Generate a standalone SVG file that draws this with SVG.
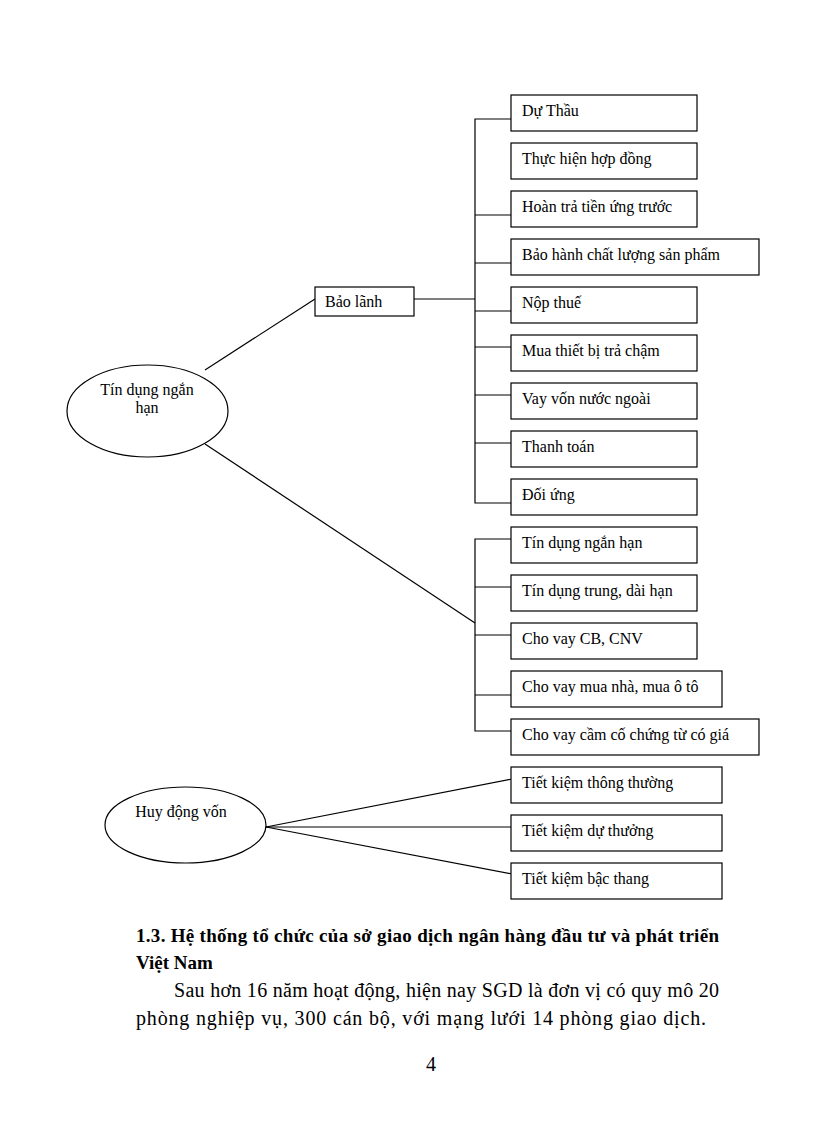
<svg xmlns="http://www.w3.org/2000/svg" width="816" height="1123" viewBox="0 0 816 1123">
<style>
.bx{fill:#fff;stroke:#000;stroke-width:1.2}
.el{fill:#fff;stroke:#000;stroke-width:1.2}
.t{font-family:"Liberation Serif","Times New Roman",serif;font-size:16px;fill:#000}
.c{fill:none;stroke:#000;stroke-width:1.2}
.h{font-family:"Liberation Serif","Times New Roman",serif;font-size:19px;font-weight:bold;fill:#000}
.p{font-family:"Liberation Serif","Times New Roman",serif;font-size:20px;fill:#000}
</style>
<rect width="816" height="1123" fill="#fff"/>
<g id="connectors">
<line class="c" x1="205" y1="370" x2="315" y2="299"/>
<line class="c" x1="205" y1="444" x2="475" y2="623"/>
<line class="c" x1="414" y1="299" x2="475" y2="299"/>
<path class="c" d="M511 119H475V503H511M475 215H511M475 263H511M475 311H511M475 347H511M475 395H511M475 443H511"/>
<path class="c" d="M511 539H475V731H511M475 587H511M475 635H511M475 695H511"/>
<line class="c" x1="266" y1="827" x2="512" y2="779"/>
<line class="c" x1="266" y1="827" x2="512" y2="827"/>
<line class="c" x1="266" y1="827" x2="512" y2="874"/>
</g>
<g id="n-tindung">
<ellipse class="el" cx="147.5" cy="411" rx="80.5" ry="46"/>
<text class="t" x="147" y="395" text-anchor="middle">Tín  dụng  ngắn</text>
<text class="t" x="147" y="413" text-anchor="middle">hạn</text>
</g>
<g id="n-baolanh"><rect class="bx" x="315" y="287" width="99" height="29"/><text class="t" x="325" y="307">Bảo lãnh</text></g>
<g id="n-duthau"><rect class="bx" x="511" y="95" width="186" height="36"/><text class="t" x="522" y="116">Dự Thầu</text></g>
<g id="n-thuchien"><rect class="bx" x="511" y="143" width="186" height="36"/><text class="t" x="522" y="164">Thực hiện  hợp  đồng</text></g>
<g id="n-hoantra"><rect class="bx" x="511" y="191" width="186" height="36"/><text class="t" x="522" y="212">Hoàn trả tiền  ứng trước</text></g>
<g id="n-baohanh"><rect class="bx" x="511" y="239" width="248" height="36"/><text class="t" x="522" y="260">Bảo hành  chất lượng  sản phẩm</text></g>
<g id="n-nopthue"><rect class="bx" x="511" y="287" width="186" height="36"/><text class="t" x="522" y="308">Nộp thuế</text></g>
<g id="n-muathietbi"><rect class="bx" x="511" y="335" width="186" height="36"/><text class="t" x="522" y="356">Mua thiết  bị trả chậm</text></g>
<g id="n-vayvon"><rect class="bx" x="511" y="383" width="186" height="36"/><text class="t" x="522" y="404">Vay vốn nước ngoài</text></g>
<g id="n-thanhtoan"><rect class="bx" x="511" y="431" width="186" height="36"/><text class="t" x="522" y="452">Thanh  toán</text></g>
<g id="n-doiung"><rect class="bx" x="511" y="479" width="186" height="36"/><text class="t" x="522" y="500">Đối ứng</text></g>
<g id="n-tdnh"><rect class="bx" x="511" y="527" width="186" height="36"/><text class="t" x="522" y="548">Tín  dụng  ngắn  hạn</text></g>
<g id="n-tdtdh"><rect class="bx" x="511" y="575" width="186" height="36"/><text class="t" x="522" y="596">Tín  dụng  trung,  dài hạn</text></g>
<g id="n-cbcnv"><rect class="bx" x="511" y="623" width="186" height="36"/><text class="t" x="522" y="644">Cho vay  CB, CNV</text></g>
<g id="n-nhaoto"><rect class="bx" x="511" y="671" width="211" height="36"/><text class="t" x="522" y="692">Cho vay  mua nhà, mua  ô tô</text></g>
<g id="n-camco"><rect class="bx" x="511" y="719" width="248" height="36"/><text class="t" x="522" y="740">Cho vay  cầm cố chứng từ có giá</text></g>
<g id="n-huydong">
<ellipse class="el" cx="185.5" cy="825" rx="80.5" ry="38"/>
<text class="t" x="181" y="817" text-anchor="middle">Huy  động vốn</text>
</g>
<g id="n-tkthuong"><rect class="bx" x="511" y="767" width="211" height="36"/><text class="t" x="522" y="788">Tiết kiệm  thông  thường</text></g>
<g id="n-tkduthuong"><rect class="bx" x="511" y="815" width="211" height="36"/><text class="t" x="522" y="836">Tiết kiệm  dự thưởng</text></g>
<g id="n-tkbacthang"><rect class="bx" x="511" y="863" width="211" height="36"/><text class="t" x="522" y="884">Tiết kiệm  bậc thang</text></g>
<g id="text">
<text class="h" x="136" y="942" textLength="583" lengthAdjust="spacing">1.3. Hệ thống tổ chức của sở giao dịch ngân hàng đầu tư và phát triển</text>
<text class="h" x="136" y="969">Việt Nam</text>
<text class="p" x="174" y="997" textLength="545" lengthAdjust="spacing">Sau hơn 16 năm hoạt động, hiện nay SGD là đơn vị có quy mô 20</text>
<text class="p" x="136" y="1025" textLength="570" lengthAdjust="spacing">phòng nghiệp vụ, 300 cán bộ, với mạng lưới 14 phòng giao dịch.</text>
<text class="p" x="431" y="1071" text-anchor="middle">4</text>
</g>
</svg>
